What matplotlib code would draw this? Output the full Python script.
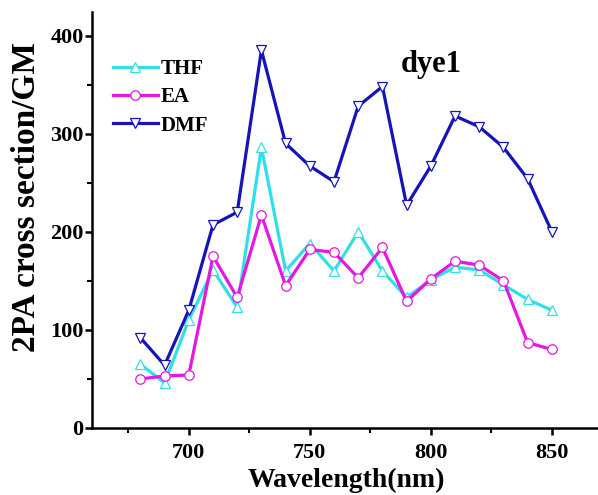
import numpy as np
import matplotlib
matplotlib.use("Agg")
import matplotlib.pyplot as plt
from matplotlib.ticker import MultipleLocator

plt.rcParams["font.family"] = ["Liberation Serif", "DejaVu Serif"]
plt.rcParams["font.weight"] = "bold"

wavelength = [680, 690, 700, 710, 720, 730, 740, 750, 760, 770, 780, 790, 800, 810, 820, 830, 840, 850]
thf = [65, 46, 110, 161, 123, 286, 160, 188, 160, 200, 160, 133, 151, 164, 161, 146, 131, 120]
ea = [50, 53, 54, 175, 133, 217, 145, 182, 179, 153, 184, 129, 152, 170, 166, 150, 87, 80]
dmf = [92, 64, 120, 207, 220, 385, 290, 267, 251, 328, 348, 227, 267, 318, 307, 286, 254, 200]

fig = plt.figure(figsize=(5.98, 4.95), dpi=100)
ax = fig.add_axes([0.1538, 0.1354, 0.85, 0.8404])

common = dict(linewidth=2.3, markersize=6.8, markerfacecolor="white", markeredgewidth=0.9)
ax.plot(wavelength, thf, marker="^", color="#30e0e6", label="THF", **common)
ax.plot(wavelength, ea, marker="o", color="#e418e0", label="EA", **common)
ax.plot(wavelength, dmf, marker="v", color="#1414b8", label="DMF", **common)

ax.set_xlim(660, 870)
ax.set_ylim(0, 424)
ax.xaxis.set_major_locator(MultipleLocator(50))
ax.xaxis.set_minor_locator(MultipleLocator(25))
ax.yaxis.set_major_locator(MultipleLocator(100))
ax.yaxis.set_minor_locator(MultipleLocator(50))

for side in ("top", "right"):
    ax.spines[side].set_visible(False)
for side in ("left", "bottom"):
    ax.spines[side].set_linewidth(1.8)
ax.tick_params(which="major", direction="out", length=5, width=1.8, labelsize=16)
ax.tick_params(axis="x", which="major", pad=5.5)
ax.tick_params(axis="y", which="major", pad=1)
ax.tick_params(which="minor", direction="out", length=3.5, width=1.5)
for lab in ax.get_xticklabels() + ax.get_yticklabels():
    lab.set_fontweight("bold")

ax.set_xlabel("Wavelength(nm)", fontsize=20, fontweight="bold", labelpad=4)
ax.set_ylabel("2PA cross section/GM", fontsize=24, fontweight="bold")
ax.yaxis.set_label_coords(-0.098, 0.555)

ax.text(0.607, 0.873, "dye1", transform=ax.transAxes, fontsize=22, fontweight="bold", ha="left", va="center")

leg = ax.legend(loc="upper left", bbox_to_anchor=(113 / 598, 1 - 59 / 495), bbox_transform=fig.transFigure,
                frameon=False, fontsize=15, handlelength=2.15, handletextpad=0.15, labelspacing=0.4,
                borderaxespad=0, borderpad=0)
for t in leg.get_texts():
    t.set_fontweight("bold")

fig.savefig("out.png", dpi=100)
